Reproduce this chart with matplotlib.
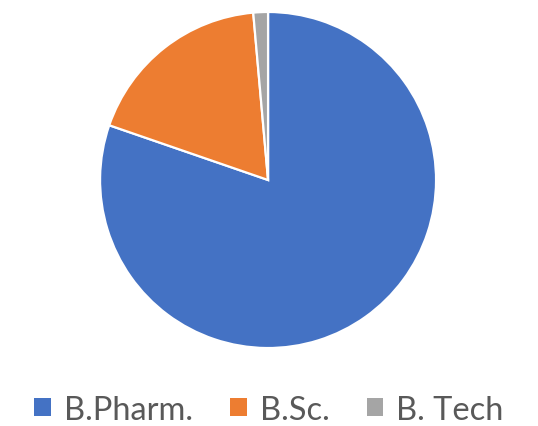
import matplotlib.pyplot as plt
from matplotlib.patches import Patch

labels = ['B.Pharm.', 'B.Sc.', 'B. Tech']
values = [57, 13, 1]
colors = ['#4472C4', '#ED7D31', '#A5A5A5']

fig = plt.figure(figsize=(5.38, 4.27), dpi=100)
ax = fig.add_axes([0.186, 0.1826, 0.6245, 0.787])
ax.pie(values, colors=colors, startangle=90, counterclock=False, radius=1,
       wedgeprops=dict(edgecolor='white', linewidth=1.6))
ax.set_xlim(-1, 1)
ax.set_ylim(-1, 1)
ax.set_aspect('auto')
ax.axis('off')

handles = [Patch(facecolor=c, edgecolor='none') for c in colors]
fig.legend(handles, labels, loc='center', bbox_to_anchor=(0.5, 0.038),
           ncol=3, frameon=False, handlelength=0.5, handleheight=0.5,
           handletextpad=0.4, columnspacing=1.15, borderpad=0,
           prop=dict(family='Lato', size=23.5), labelcolor='#595959')

fig.savefig('out.png', dpi=100)
